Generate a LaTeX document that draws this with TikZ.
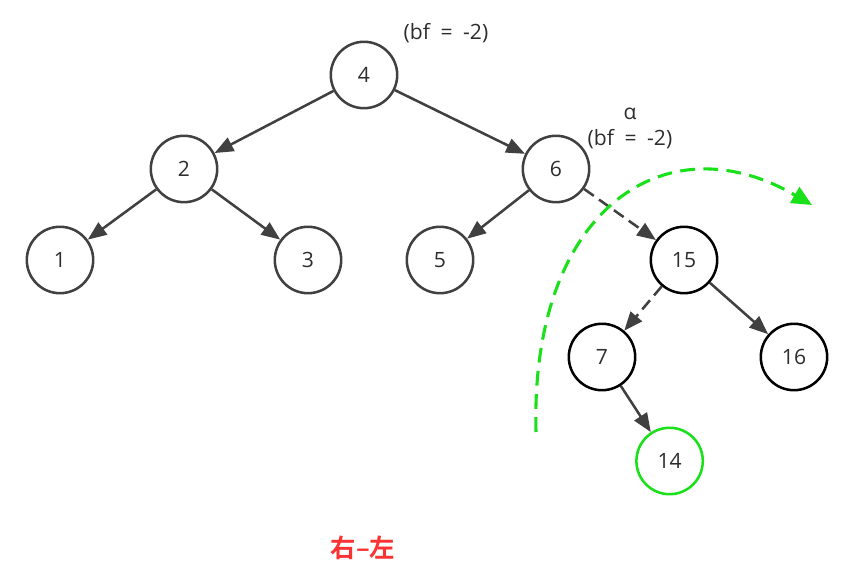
\documentclass[tikz,border=0pt]{standalone}
\usepackage{fontspec}
\setmainfont{Open Sans}
\newfontfamily\cjk{Noto Sans CJK SC Bold}
\usetikzlibrary{arrows.meta}

\definecolor{edgegray}{RGB}{64,64,64}
\definecolor{labelgray}{RGB}{45,45,45}
\definecolor{rotgreen}{RGB}{25,225,25}
\definecolor{capred}{RGB}{250,50,50}

\tikzset{
  vertex/.style={circle, draw=edgegray, line width=1.8pt, minimum size=1.66cm,
    inner sep=0pt, text=labelgray, font=\fontsize{15}{17}\selectfont},
  subvertex/.style={vertex, draw=black},
  newvertex/.style={vertex, draw=rotgreen},
  edge/.style={draw=edgegray, line width=1.8pt, -{Triangle[length=0.47cm, width=0.37cm]}},
  weak/.style={edge, dash pattern=on 8.5pt off 4.5pt},
  note/.style={text=labelgray, font=\fontsize{15}{17}\selectfont, inner sep=0pt},
}

\begin{document}
\begin{tikzpicture}
    \useasboundingbox (0, 0) rectangle (21.325, 14.575);

    % upper tree
    \node[vertex] (n4) at (9.1, 12.7) {4};
    \node[vertex] (n2) at (4.6, 10.35) {2};
    \node[vertex] (n6) at (13.9, 10.35) {6};
    \node[vertex] (n1) at (1.5, 8.075) {1};
    \node[vertex] (n3) at (7.7, 8.075) {3};
    \node[vertex] (n5) at (11.0, 8.075) {5};

    % right subtree
    \node[subvertex] (n15) at (17.1, 8.075) {15};
    \node[subvertex] (n7) at (15.05, 5.65) {7};
    \node[subvertex] (n16) at (19.85, 5.65) {16};
    \node[newvertex] (n14) at (16.74, 3.05) {14};

    \node[note] (bfroot) at (11.15, 13.75) {(bf\enspace=\enspace-2)};
    \node[note] (alpha) at (15.75, 11.72) {α};
    \node[note] (bfalpha) at (15.75, 11.1) {(bf\enspace=\enspace-2)};
    \node[text=capred, font=\cjk\fontsize{18}{20}\selectfont] (case) at (9.075, 0.875) {右–左};

    \draw[edge] (n4) -- (n2);
    \draw[edge] (n4) -- (n6);
    \draw[edge] (n2) -- (n1);
    \draw[edge] (n2) -- (n3);
    \draw[edge] (n6) -- (n5);
    \draw[weak] (n6) -- (n15);
    \draw[weak] (n15) -- (n7);
    \draw[edge] (n15) -- (n16);
    \draw[edge] (n7) -- (n14);

    % rotation
    \coordinate (rotstart) at (13.4, 3.775);
    \coordinate (rotend) at (20.3, 9.45);
    \draw[rotgreen, line width=2.2pt, dash pattern=on 10.5pt off 6pt,
      -{Triangle[length=0.5cm, width=0.45cm]}]
      (rotstart) .. controls (13.25, 9.3) and (16.6, 11.6) .. (rotend);
\end{tikzpicture}
\end{document}
